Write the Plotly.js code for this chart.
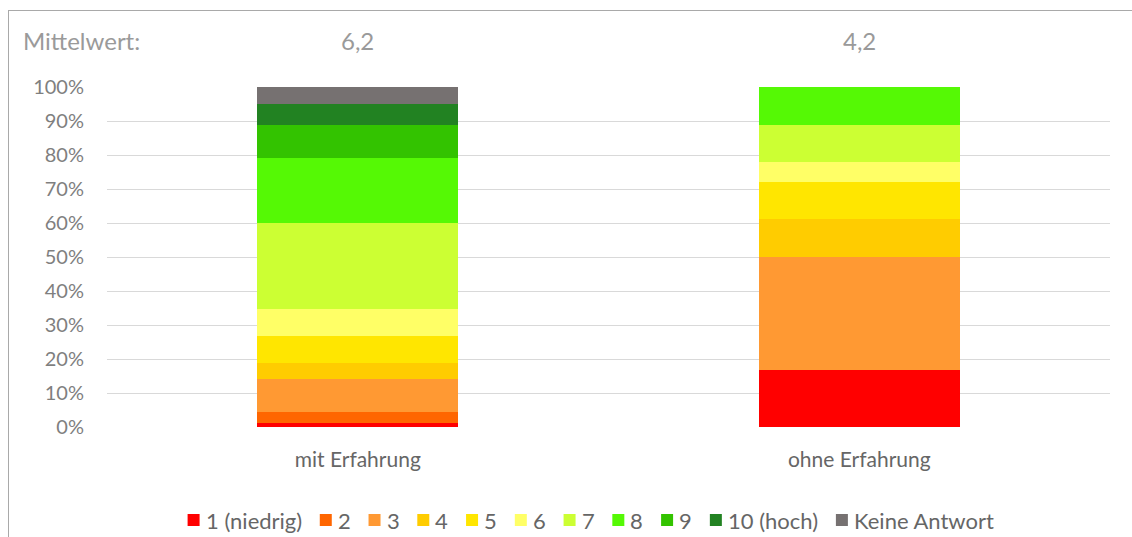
<!DOCTYPE html>
<html>
<head>
<meta charset="utf-8">
<script src="https://cdn.plot.ly/plotly-3.0.1.min.js"></script>
<style>
  html, body { margin: 0; padding: 0; background: #ffffff; }
  #wrap { position: relative; width: 1132px; height: 537px; overflow: hidden; }
  #chart { position: absolute; left: 0; top: 0; width: 1132px; height: 537px; }
  #frame { position: absolute; left: 8px; top: 10px; width: 1200px; height: 600px;
           border: 1.5px solid #a9a9a9; pointer-events: none; box-sizing: border-box; }
</style>
</head>
<body>
<div id="wrap">
  <div id="chart"></div>
  <div id="frame"></div>
</div>
<script>
// Groups on the x axis
const categories = ['mit Erfahrung', 'ohne Erfahrung'];

// Rating levels (stack order, bottom to top)
const ratingLabels = ['1 (niedrig)', '2', '3', '4', '5', '6', '7', '8', '9', '10 (hoch)', 'Keine Antwort'];
const ratingColors = ['#ff0000', '#ff6600', '#ff9933', '#ffcc00', '#ffe600', '#ffff66',
                      '#ccff33', '#55f905', '#33c300', '#228222', '#767171'];

// Share of answers per rating level
const mitErfahrung  = [0.013, 0.030, 0.097, 0.047, 0.080, 0.079, 0.254, 0.192, 0.095, 0.062, 0.051];
const ohneErfahrung = [0.167, 0.000, 0.333, 0.111, 0.111, 0.056, 0.111, 0.111, 0.000, 0.000, 0.000];

// Mean rating per group
const means = [6.2, 4.2];

// Y axis ticks
const yTicks = [0, 0.1, 0.2, 0.3, 0.4, 0.5, 0.6, 0.7, 0.8, 0.9, 1.0];

const FONT = 'Lato, "Open Sans", sans-serif';
const W = 1132, H = 537;
const M = { l: 107, r: 22, t: 87, b: 110 };
const plotW = W - M.l - M.r;
const plotH = H - M.t - M.b;
const toPaperX = px => (px - M.l) / plotW;
const toPaperY = py => (H - M.b - py) / plotH;

const traces = ratingLabels.map((name, i) => ({
  type: 'bar',
  name: name,
  x: categories,
  y: [mitErfahrung[i], ohneErfahrung[i]],
  marker: { color: ratingColors[i], line: { width: 0 } },
  showlegend: false,
  hovertemplate: '%{x}<br>' + name + ': %{y:.1%}<extra></extra>'
}));

// Header row with the mean values
const headerFont = { family: FONT, size: 24, color: '#9a9a9a' };
const annotations = [{
  xref: 'paper', yref: 'paper', x: toPaperX(21), y: toPaperY(40),
  xanchor: 'left', yanchor: 'middle', showarrow: false,
  text: 'Mittelwert:', font: headerFont
}];
categories.forEach((c, i) => annotations.push({
  xref: 'x', yref: 'paper', x: c, y: toPaperY(40),
  xanchor: 'center', yanchor: 'middle', showarrow: false,
  text: means[i].toFixed(1).replace('.', ','),
  font: headerFont
}));

// Legend row: coloured squares followed by labels, laid out from measured text widths
const legendFontSize = 22;
const ctx = document.createElement('canvas').getContext('2d');
ctx.font = legendFontSize + 'px Lato';
const SQ = 12, SQ_GAP = 4, ITEM_GAP = 20, LEGEND_CX = 590, LEGEND_CY = 520;
const widths = ratingLabels.map(t => SQ + SQ_GAP + ctx.measureText(t).width);
const total = widths.reduce((a, b) => a + b, 0) + ITEM_GAP * (ratingLabels.length - 1);
const shapes = [];
let cursor = LEGEND_CX - total / 2;
ratingLabels.forEach((t, i) => {
  shapes.push({
    type: 'rect', xref: 'paper', yref: 'paper',
    x0: toPaperX(cursor), x1: toPaperX(cursor + SQ),
    y0: toPaperY(LEGEND_CY + SQ / 2), y1: toPaperY(LEGEND_CY - SQ / 2),
    fillcolor: ratingColors[i], line: { width: 0 }
  });
  annotations.push({
    xref: 'paper', yref: 'paper', x: toPaperX(cursor + SQ + SQ_GAP), y: toPaperY(LEGEND_CY),
    xanchor: 'left', yanchor: 'middle', showarrow: false, text: t,
    font: { family: FONT, size: legendFontSize, color: '#666666' }
  });
  cursor += widths[i] + ITEM_GAP;
});

const layout = {
  width: W, height: H,
  margin: M,
  barmode: 'stack',
  bargap: 0.6,
  paper_bgcolor: 'rgba(0,0,0,0)',
  plot_bgcolor: 'rgba(0,0,0,0)',
  showlegend: false,
  font: { family: FONT, color: '#7f7f7f' },
  xaxis: {
    type: 'category',
    showgrid: false, zeroline: false, showline: false, ticks: '',
    ticklabelstandoff: 18,
    tickfont: { family: FONT, size: 21, color: '#666666' }
  },
  yaxis: {
    range: [0, 1],
    tickvals: yTicks,
    tickformat: '.0%',
    showgrid: true, gridcolor: '#d9d9d9', gridwidth: 1,
    zeroline: false, showline: false, ticks: '',
    ticklabelstandoff: 22,
    tickfont: { family: FONT, size: 20, color: '#7f7f7f' }
  },
  annotations: annotations,
  shapes: shapes
};

Plotly.newPlot('chart', traces, layout, { displayModeBar: false, staticPlot: true });
</script>
</body>
</html>
